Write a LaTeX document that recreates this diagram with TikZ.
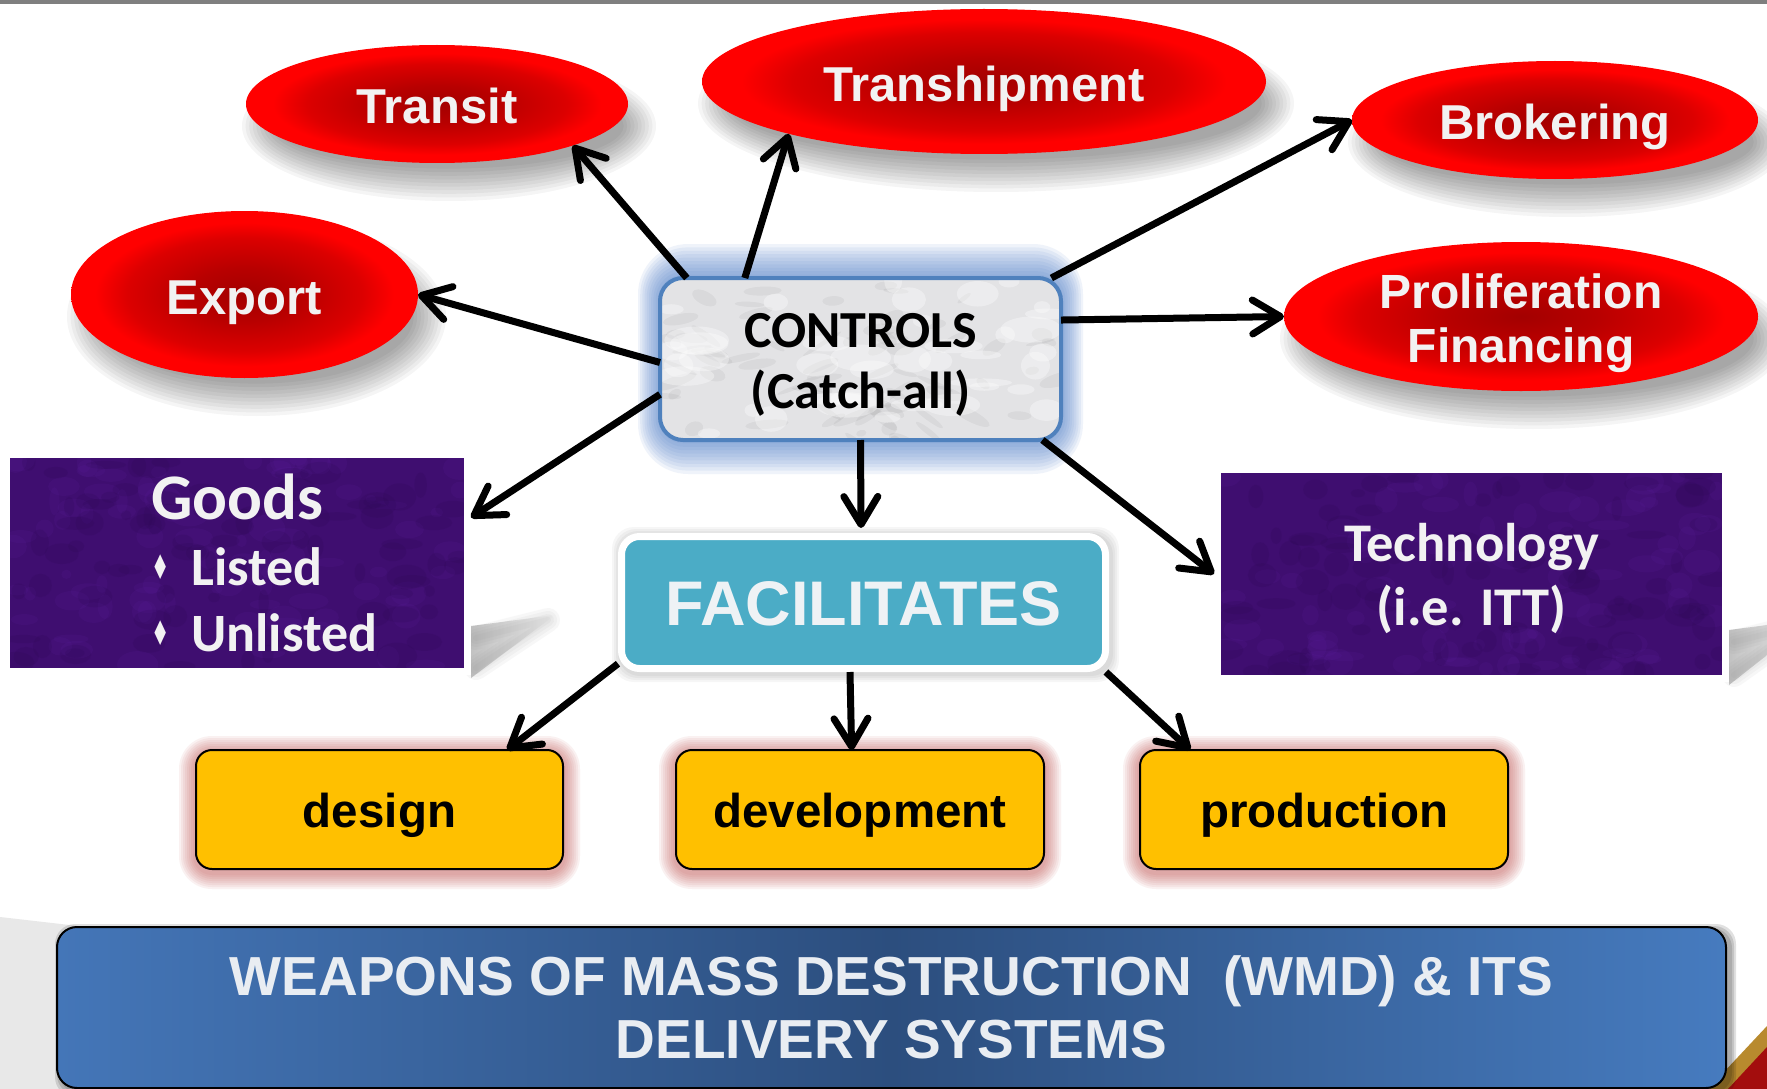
\documentclass[tikz,border=0pt]{standalone}
\usepackage{fontspec}
\setmainfont{Liberation Sans}
\newfontfamily\calfont{Carlito}
\newfontfamily\djvfont{DejaVu Sans}
\usepackage{graphicx}
\usetikzlibrary{arrows.meta,backgrounds,shapes.geometric}
\definecolor{rcenter}{HTML}{A30000}
\definecolor{rcmid}{HTML}{B80000}
\definecolor{rmid}{HTML}{DC0000}
\definecolor{rbright}{HTML}{FF0000}
\definecolor{txtw}{HTML}{F2F2F2}
\definecolor{ctrlblue}{HTML}{4F81BD}
\definecolor{glowblue}{HTML}{4A7FC8}
\definecolor{marble}{HTML}{E3E3E5}
\definecolor{purp}{HTML}{3F0E70}
\definecolor{purpL}{HTML}{5C20A0}
\definecolor{purpD}{HTML}{2A0750}
\definecolor{facteal}{HTML}{4BACC6}
\definecolor{factxt}{HTML}{EEF2F5}
\definecolor{boxyellow}{HTML}{FFC000}
\definecolor{glowred}{HTML}{C0504D}
\definecolor{wmdL}{HTML}{4476B8}
\definecolor{wmdM}{HTML}{2C4E7E}
\definecolor{wmdR}{HTML}{467BBF}
\definecolor{wmdtxt}{HTML}{E9EDF2}
\definecolor{topgray}{HTML}{7F7F7F}
\definecolor{bggray}{HTML}{E8E8E8}
\definecolor{cornergold}{HTML}{B88A2E}
\definecolor{cornerred}{HTML}{A30D0D}
\pgfdeclareradialshading{redball}{\pgfpoint{0bp}{0bp}}{color(0bp)=(rcenter); color(8bp)=(rcmid); color(17bp)=(rmid); color(21.5bp)=(rbright); color(50bp)=(rbright)}
\newcommand\gbul{\raisebox{6pt}{\scalebox{0.6}[1]{\djvfont\fontsize{34}{34}\selectfont ♦}}\hspace{22pt}}
\newcommand\ellshadow[3]{\foreach \k in {0,...,9}{\fill[black,opacity=0.04] ([shift={(12,-22)}]#1.center) ellipse [x radius={#2+16-3.6*\k}, y radius={#3+16-3.6*\k}];}}
\tikzset{
  every node/.style={outer sep=0pt},
  redell/.style={ellipse, shading=redball, text=txtw, font=\bfseries\fontsize{49}{54}\selectfont, inner sep=0pt},
  onel/.style={text height=40pt, text depth=0pt},
  arr/.style={line width=7pt, -{Straight Barb[length=28pt,width=34pt,round]}},
  purplebox/.style={rectangle, draw=white, line width=7pt, outer sep=3.5pt, text=txtw, inner sep=0pt},
  yellowbox/.style={rectangle, rounded corners=16pt, draw=black, line width=2pt, fill=boxyellow, minimum width=368pt, minimum height=119pt, font=\bfseries\fontsize{47.5}{54}\selectfont, text height=35pt, text depth=0pt, inner sep=0pt}
}
\begin{document}
\begin{tikzpicture}[x=1pt,y=1pt]
\useasboundingbox (0,0) rectangle (1767,-1089);
% ---- ellipses
\node[redell, onel, minimum width=382pt, minimum height=118pt] (transit) at (437,-104) {Transit};
\node[redell, onel, minimum width=564pt, minimum height=145pt] (tranship) at (984,-81.5) {Transhipment};
\node[redell, onel, minimum width=406pt, minimum height=118pt] (brok) at (1555,-120) {Brokering};
\node[redell, onel, minimum width=347pt, minimum height=167pt] (export) at (244.5,-294.5) {Export};
\node[redell, minimum width=474pt, minimum height=149pt, inner ysep=-15pt, align=center, font=\bfseries\fontsize{48}{54}\selectfont] (prolif) at (1521,-316.5) {\rule{0pt}{49pt}Proliferation\\Financing};
% ---- central box
\node[draw=ctrlblue, line width=4pt, rounded corners=23pt, minimum width=401pt, minimum height=162pt, inner sep=0pt, align=center, font=\calfont\bfseries\fontsize{52}{61}\selectfont] (ctrl) at (860.5,-359) {\rule{0pt}{45pt}CONTROLS\\(Catch-all)};
% ---- purple boxes
\node[purplebox, minimum width=461pt, minimum height=217pt, align=left, font=\calfont\bfseries\fontsize{54}{66}\selectfont] (goods) at (237,-563) {\makebox[172pt][l]{\fontsize{65}{66}\selectfont Goods}\\\makebox[172pt][l]{\gbul Listed}\\\makebox[172pt][l]{\gbul Unlisted}};
\node[purplebox, minimum width=508pt, minimum height=209pt, align=center, font=\calfont\bfseries\fontsize{54.5}{64}\selectfont] (tech) at (1471.5,-574) {\rule{0pt}{48pt}Technology\\(i.e. ITT)};
% ---- facilitates
\node[draw=white, line width=7pt, outer sep=3.5pt, rounded corners=18pt, fill=facteal, minimum width=484pt, minimum height=132pt, inner sep=0pt, text=factxt, font=\bfseries\fontsize{63}{70}\selectfont, text height=46pt, text depth=0pt] (facil) at (863.5,-602.5) {FACILITATES};
% ---- yellow boxes
\node[yellowbox, minimum width=367pt] (design) at (379.5,-809.5) {design};
\node[yellowbox] (dev) at (860,-809.5) {development};
\node[yellowbox] (prod) at (1324,-809.5) {production};
% ---- WMD
\node[draw=black, line width=2pt, rounded corners=20pt, left color=wmdL, right color=wmdR, middle color=wmdM, minimum width=1669pt, minimum height=161pt, inner sep=0pt, align=center, text=wmdtxt, font=\bfseries\fontsize{55}{63}\selectfont] (wmd) at (891.5,-1007.5) {WEAPONS OF MASS DESTRUCTION\ \ (WMD) \& ITS\\DELIVERY SYSTEMS};
% ---- arrows
\draw[arr] (ctrl.155.1) -- (transit.-17.4);
\draw[arr] (ctrl.145.9) -- (tranship.195);
\draw[arr] (ctrl.181) -- (export.east);
\draw[arr] (ctrl.190.5) -- (goods.11.8);
\draw[arr, shorten >=5pt] (ctrl.south) -- (facil.92.5);
\draw[arr] (ctrl.23.8) -- (brok.west);
\draw[arr] (ctrl.11.8) -- (prolif.west);
\draw[arr] (ctrl.-24.2) -- (tech.west);
\draw[arr] (facil.194.3) -- (design.25.9);
\draw[arr] (facil.259.8) -- (dev.98.6);
\draw[arr] (facil.-16.7) -- (prod.156.8);
% ---- background decorations
\begin{scope}[on background layer]
\fill[white] (0,0) rectangle (1767,-1089);
\fill[topgray] (0,0) rectangle (1767,-4);
\fill[bggray] (0,-917) -- (200,-940) -- (200,-1089) -- (0,-1089) -- cycle;
\fill[cornergold] (1708,-1089) -- (1767,-1026) -- (1767,-1089) -- cycle;
\fill[cornerred] (1728,-1089) -- (1767,-1047) -- (1767,-1089) -- cycle;
\foreach \e in {2,4,6}{\fill[black,opacity=0.12,rounded corners=20pt] ([shift={(4-\e,-3+\e)}]wmd.north west) rectangle ([shift={(4+\e,-3-\e)}]wmd.south east);}
\ellshadow{transit}{191}{59}
\ellshadow{tranship}{282}{72.5}
\ellshadow{brok}{203}{59}
\ellshadow{export}{173.5}{83.5}
\ellshadow{prolif}{237}{74.5}
% wedge shadows
\shade[left color=black!24, right color=white] (471,-626) -- (555,-615) -- (471,-678) -- cycle;
\foreach \w in {24,18,12,6}{\draw[black!50,opacity=0.06,line width=\w pt,line join=round,line cap=round] (476,-638) -- (548,-620) -- (476,-668);}
\shade[left color=black!24, right color=white] (1729,-630) -- (1813,-619) -- (1729,-685) -- cycle;
\foreach \w in {24,18,12,6}{\draw[black!50,opacity=0.06,line width=\w pt,line join=round,line cap=round] (1734,-642) -- (1806,-624) -- (1734,-675);}
% glow of CONTROLS
\foreach \k in {0,...,9}{\pgfmathsetmacro\ex{22-2.2*\k}\pgfmathsetmacro\ey{34-3.4*\k}\pgfmathsetmacro\rr{23+0.8*\ey}
  \fill[glowblue,opacity=0.085,rounded corners=\rr pt] ([shift={(-\ex,\ey)}]ctrl.north west) rectangle ([shift={(\ex,-\ey)}]ctrl.south east);}
% glows of yellow boxes
\foreach \n in {design,dev,prod}{\foreach \k in {0,...,7}{\pgfmathsetmacro\e{17-2*\k}\pgfmathsetmacro\rr{16+\e}
  \fill[glowred,opacity=0.08,rounded corners=\rr pt] ([shift={(-\e,\e-3)}]\n.north west) rectangle ([shift={(\e,-\e-3)}]\n.south east);}}
% shadow of facilitates
\foreach \e in {2,4,6,8}{\fill[black,opacity=0.035,rounded corners=22pt] ([shift={(2-\e,-2+\e)}]facil.north west) rectangle ([shift={(2+\e,-2-\e)}]facil.south east);}
% marble fill
\fill[marble,rounded corners=23pt] (ctrl.north west) rectangle (ctrl.south east);
\begin{scope}
\clip[rounded corners=23pt] (ctrl.north west) rectangle (ctrl.south east);
\pgfmathsetseed{3}
\foreach \i in {1,...,90}{\fill[black,opacity=0.045,rotate around={{-40+80*rnd}:(860,-359)}] ({662+398*rnd},{-280-158*rnd}) ellipse [x radius={5+18*rnd}, y radius={2+5*rnd}];}
\foreach \i in {1,...,40}{\fill[white,opacity=0.35] ({662+398*rnd},{-280-158*rnd}) ellipse [x radius={8+25*rnd}, y radius={4+10*rnd}];}
\end{scope}
% purple fills
\fill[purp] ([shift={(7,-7)}]goods.north west) rectangle ([shift={(-7,7)}]goods.south east);
\fill[purp] ([shift={(7,-7)}]tech.north west) rectangle ([shift={(-7,7)}]tech.south east);
\begin{scope}
\clip ([shift={(7,-7)}]goods.north west) rectangle ([shift={(-7,7)}]goods.south east);
\pgfmathsetseed{11}
\foreach \i in {1,...,90}{\fill[purpL,opacity=0.14] ({10+454*rnd},{-458-210*rnd}) ellipse [x radius={5+16*rnd}, y radius={4+10*rnd}];}
\foreach \i in {1,...,90}{\fill[purpD,opacity=0.16] ({10+454*rnd},{-458-210*rnd}) ellipse [x radius={5+16*rnd}, y radius={4+10*rnd}];}
\end{scope}
\begin{scope}
\clip ([shift={(7,-7)}]tech.north west) rectangle ([shift={(-7,7)}]tech.south east);
\pgfmathsetseed{17}
\foreach \i in {1,...,90}{\fill[purpL,opacity=0.14] ({1221+501*rnd},{-473-202*rnd}) ellipse [x radius={5+16*rnd}, y radius={4+10*rnd}];}
\foreach \i in {1,...,90}{\fill[purpD,opacity=0.16] ({1221+501*rnd},{-473-202*rnd}) ellipse [x radius={5+16*rnd}, y radius={4+10*rnd}];}
\end{scope}
\end{scope}
\end{tikzpicture}
\end{document}
